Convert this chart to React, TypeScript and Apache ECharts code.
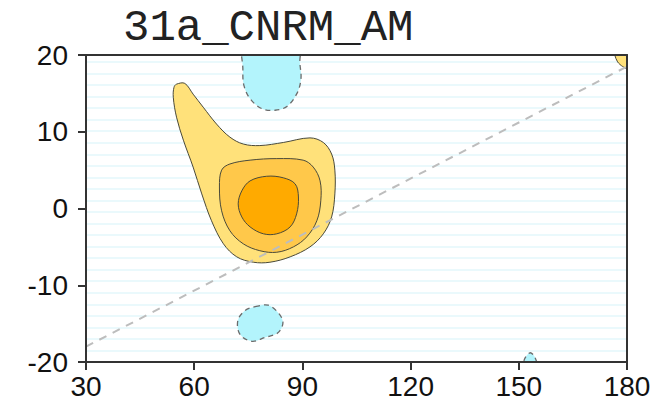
import React, { useEffect, useRef } from "react";
import * as echarts from "echarts";

const titleText = "31a_CNRM_AM";
const lonTicks = { min: 30, max: 180, interval: 30 };
const latTicks = { min: -20, max: 20, interval: 10 };

// contour polygons, [lon, lat]
const yellowOuter = [
  [55.1, 16.2], [57.4, 16.3], [59.7, 14.9], [62.5, 13.2], [66.2, 11.0], [69.9, 9.3],
  [73.6, 8.4], [78.2, 8.2], [84.7, 8.6], [92.1, 9.2], [95.8, 8.6], [98.1, 7.1],
  [99.0, 5.0], [99.0, 1.9], [98.1, -1.1], [95.8, -3.3], [92.1, -5.0], [86.6, -6.3],
  [81.0, -7.0], [76.4, -7.0], [71.8, -6.3], [68.1, -4.6], [64.8, -1.6], [62.1, 1.9],
  [59.7, 5.4], [57.0, 8.9], [55.1, 11.9], [54.2, 14.5], [54.4, 15.8],
];
const orangeMid = [
  [67.6, 5.0], [69.9, 5.8], [75.5, 6.3], [82.9, 6.5], [90.2, 6.3], [93.0, 5.4],
  [94.9, 3.6], [95.1, 1.0], [94.0, -1.6], [91.2, -3.7], [87.5, -5.0], [82.9, -5.7],
  [78.2, -5.5], [73.6, -4.6], [69.9, -2.9], [67.6, -0.3], [67.0, 2.8],
];
const orangeInner = [
  [73.2, 2.3], [75.5, 3.6], [80.1, 4.2], [84.7, 4.0], [88.0, 3.2], [88.9, 1.5],
  [88.4, -0.7], [86.6, -2.4], [82.9, -3.3], [79.2, -3.3], [75.5, -2.4], [73.2, -1.1],
  [72.2, 0.6],
];
const cyanTop = [
  [74.0, 22.0], [73.5, 18.0], [73.8, 16.0], [75.5, 14.3], [78.8, 13.0], [82.4, 12.8],
  [85.7, 13.3], [88.5, 15.0], [89.6, 16.9], [89.3, 18.9], [88.8, 22.0],
];
const cyanBottom = [
  [76.9, -12.8], [80.5, -12.6], [83.5, -13.7], [84.6, -14.9], [83.2, -16.2], [79.6, -16.8],
  [76.0, -17.3], [72.7, -16.4], [72.1, -14.6], [74.1, -13.3],
];
const cyanSmall = [
  [151.2, -21.0], [151.6, -19.6], [153.1, -18.8], [154.4, -19.3], [155.2, -21.0],
];
const yellowCorner = [
  [176.2, 21.0], [176.6, 20.0], [177.4, 19.1], [178.8, 18.5], [180.5, 18.2], [181.5, 21.0],
];
const diagonal = [[30, -18], [180, 18.5]];

const stripeAxis = { min: 0, max: 26.6, interval: 1 };

const FONT = "'Liberation Sans', Arial, Helvetica, sans-serif";
const AXIS_COLOR = "#333";

function polySeries(pts: number[][], fill: string, dashed: boolean, smooth: number) {
  return {
    type: "custom",
    coordinateSystem: "cartesian2d",
    silent: true,
    clip: true,
    z: 2,
    data: pts,
    renderItem: (params: any, api: any) => {
      if (params.dataIndex !== 0) return null;
      const points = pts.map((p) => api.coord(p));
      return {
        type: "polygon",
        shape: { points, smooth },
        style: {
          fill,
          stroke: dashed ? "#6b6b6b" : "#4a4a3a",
          lineWidth: dashed ? 1.3 : 1,
          lineDash: dashed ? [5, 4] : null,
        },
      };
    },
  };
}

export default function App() {
  const ref = useRef<HTMLDivElement>(null);
  useEffect(() => {
    const chart = echarts.init(ref.current!, null, { renderer: "svg" });
    const axisLine = { show: true, onZero: false, lineStyle: { color: AXIS_COLOR, width: 2 } };
    chart.setOption({
      animation: false,
      backgroundColor: "#ffffff",
      grid: { left: 86, right: 29, top: 55, bottom: 44 },
      graphic: [
        {
          type: "text",
          left: 123,
          top: 6,
          z: 20,
          style: {
            text: titleText,
            font: "normal 44px 'Liberation Mono', 'Courier New', monospace",
            fill: "#222",
          },
        },
      ],
      xAxis: [
        {
          type: "value",
          min: lonTicks.min,
          max: lonTicks.max,
          interval: lonTicks.interval,
          position: "bottom",
          z: 10,
          axisLine,
          axisTick: { show: true, length: 8, lineStyle: { color: AXIS_COLOR, width: 2 } },
          axisLabel: { fontFamily: FONT, fontSize: 28, color: "#111", margin: 10 },
          splitLine: { show: false },
        },
        {
          type: "value",
          min: lonTicks.min,
          max: lonTicks.max,
          position: "top",
          z: 10,
          axisLine,
          axisTick: { show: false },
          axisLabel: { show: false },
          splitLine: { show: false },
        },
      ],
      yAxis: [
        {
          type: "value",
          min: latTicks.min,
          max: latTicks.max,
          interval: latTicks.interval,
          position: "left",
          z: 10,
          axisLine,
          axisTick: { show: true, length: 8, lineStyle: { color: AXIS_COLOR, width: 2 } },
          axisLabel: { fontFamily: FONT, fontSize: 28, color: "#111", margin: 18 },
          splitLine: { show: false },
        },
        {
          type: "value",
          min: latTicks.min,
          max: latTicks.max,
          position: "right",
          z: 10,
          axisLine,
          axisTick: { show: false },
          axisLabel: { show: false },
          splitLine: { show: false },
        },
        {
          type: "value",
          min: stripeAxis.min,
          max: stripeAxis.max,
          interval: stripeAxis.interval,
          position: "right",
          z: 0,
          axisLine: { show: false },
          axisTick: { show: false },
          axisLabel: { show: false },
          splitLine: { show: true, lineStyle: { color: "#eaf9fc", width: 2 } },
        },
      ],
      series: [
        polySeries(yellowOuter, "#FFE17A", false, 0.35),
        polySeries(orangeMid, "#FFC84A", false, 0.35),
        polySeries(orangeInner, "#FFAA00", false, 0.35),
        polySeries(cyanTop, "#B3F4FC", true, 0.35),
        polySeries(cyanBottom, "#B3F4FC", true, 0.35),
        polySeries(cyanSmall, "#B3F4FC", true, 0.3),
        polySeries(yellowCorner, "#FFE17A", false, 0.3),
        {
          type: "line",
          data: diagonal,
          symbol: "none",
          silent: true,
          z: 3,
          lineStyle: { color: "#bdbdbd", width: 2, type: [8, 7] },
        },
      ],
    });
    return () => chart.dispose();
  }, []);
  return (
    <div
      ref={ref}
      style={{ position: "fixed", left: 0, top: 0, width: 656, height: 406 }}
    />
  );
}
